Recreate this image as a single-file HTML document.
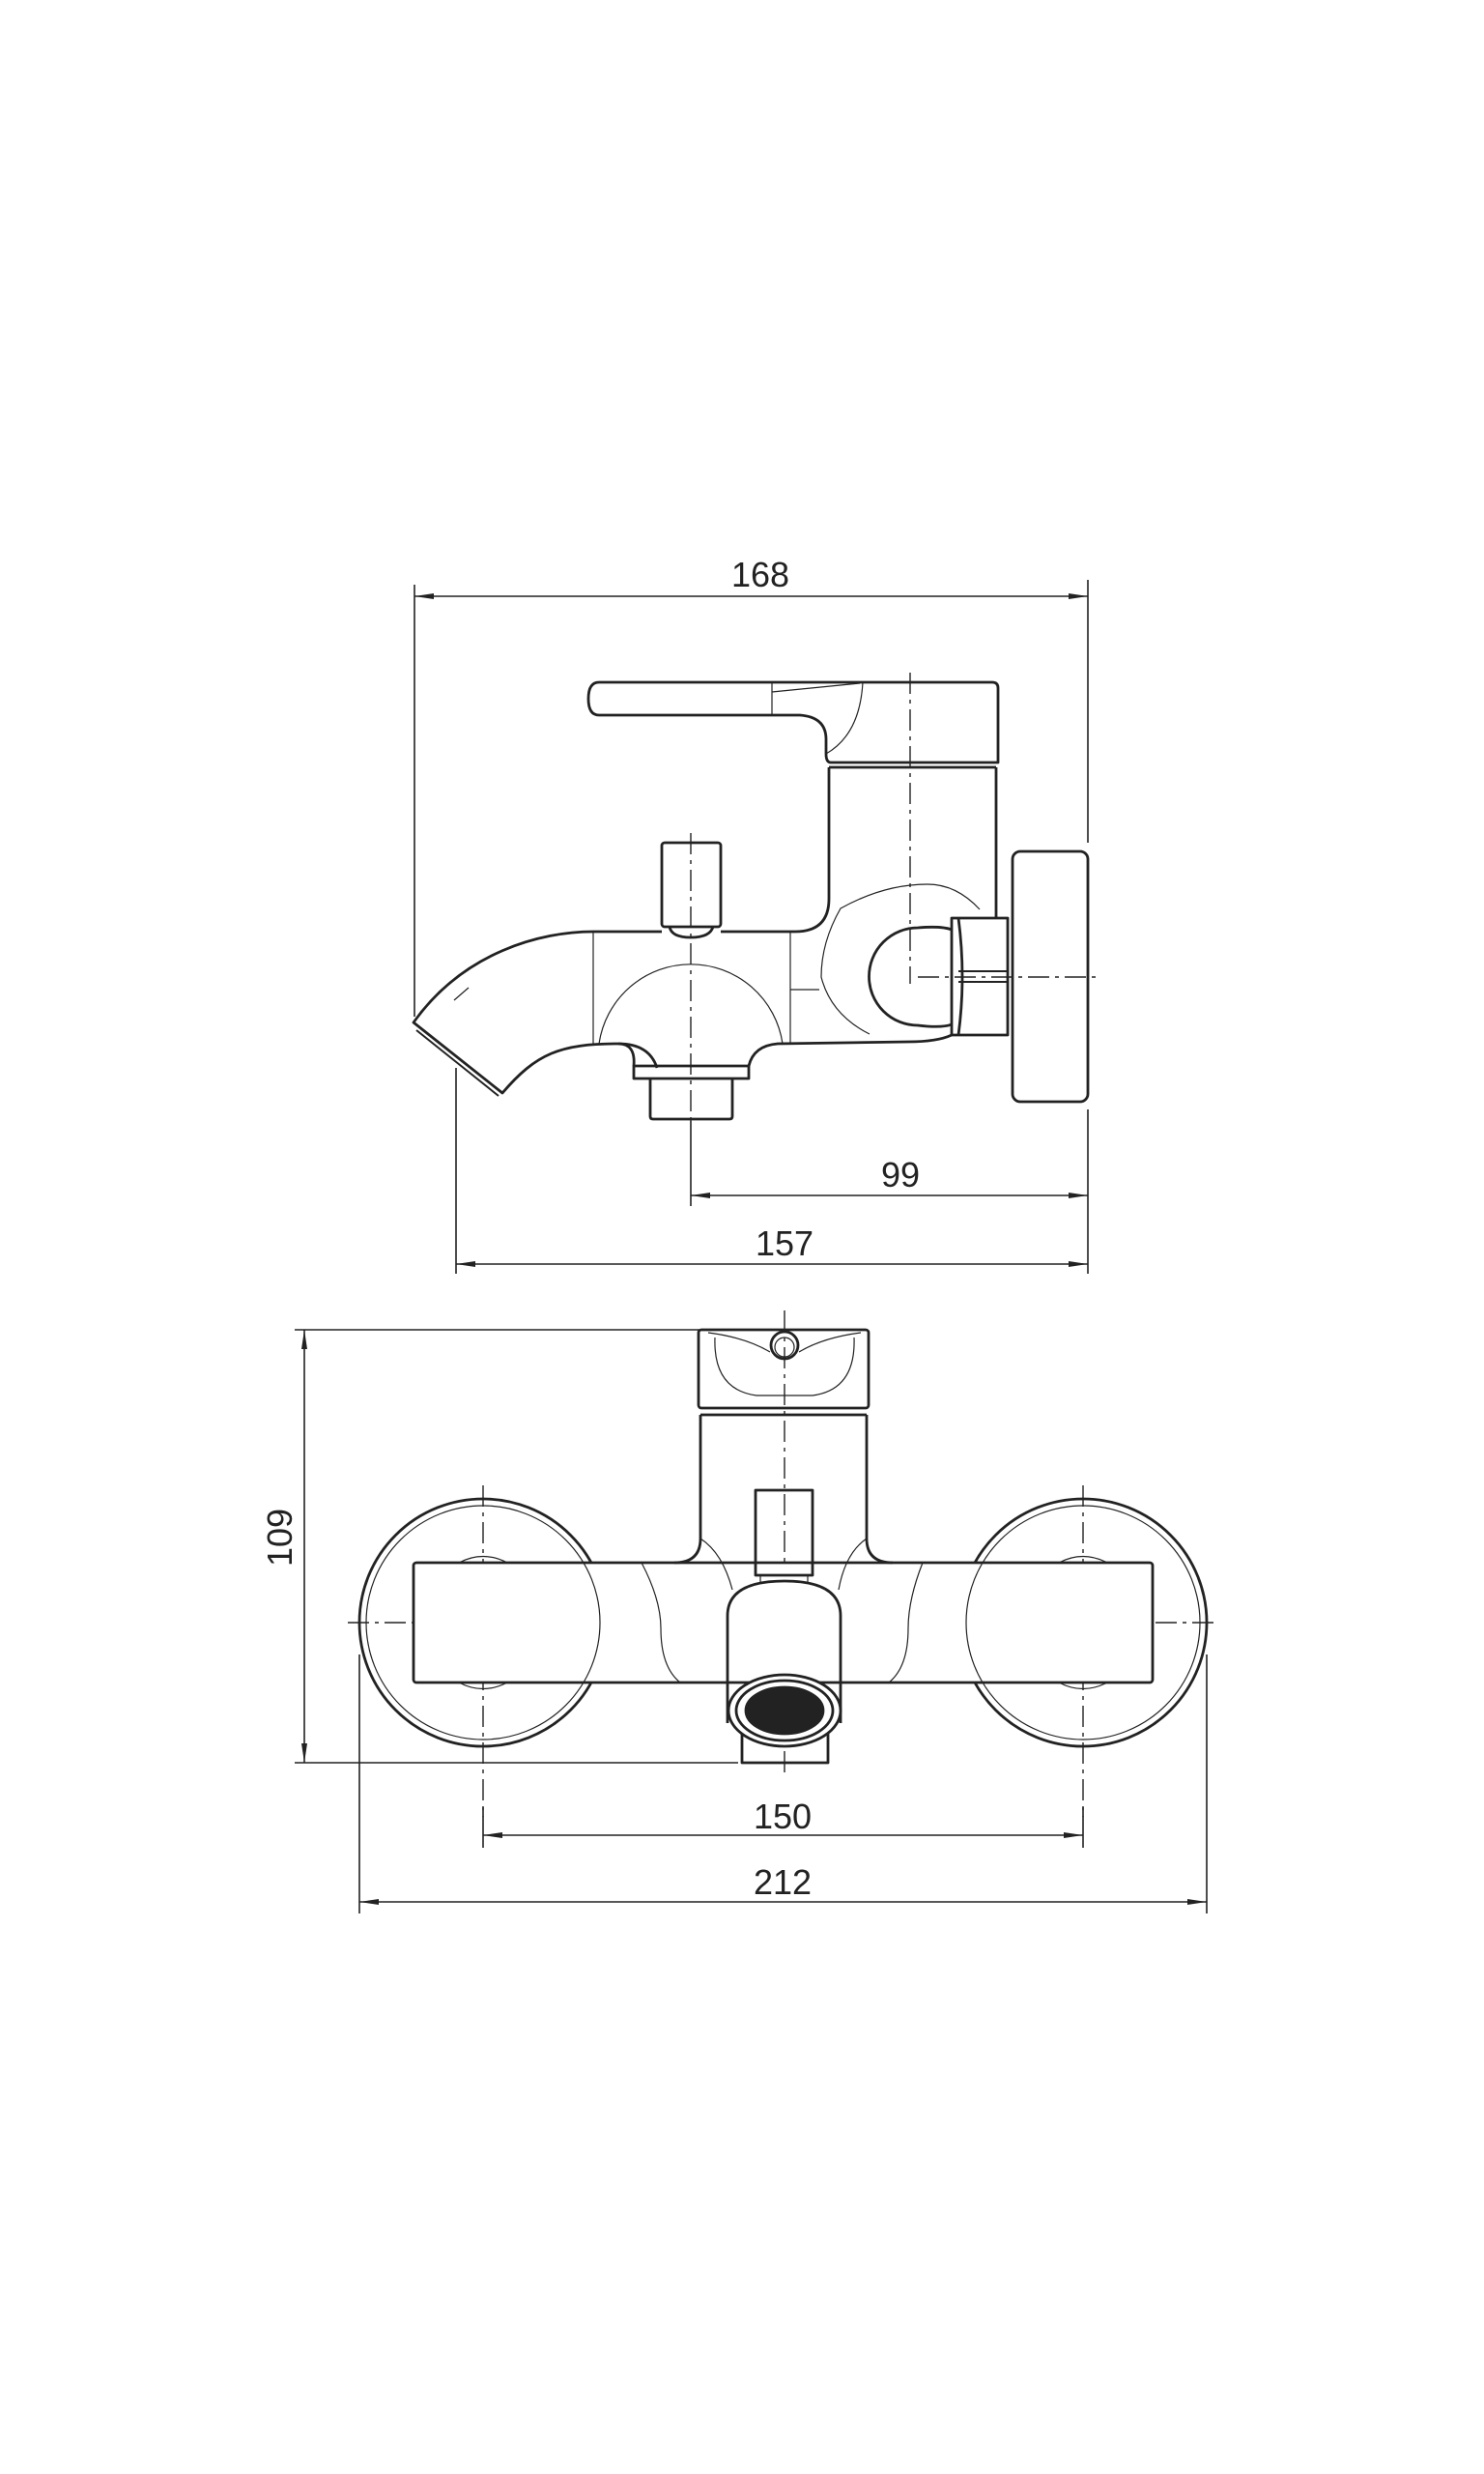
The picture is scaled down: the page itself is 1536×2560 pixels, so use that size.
<!DOCTYPE html>
<html><head><meta charset="utf-8"><style>
html,body{margin:0;padding:0;background:#fff;}
svg{display:block;}
text{font-family:"Liberation Sans",sans-serif;font-size:36px;fill:#222;}
</style></head><body>
<svg width="1536" height="2560" viewBox="0 0 1536 2560" xmlns="http://www.w3.org/2000/svg">
<defs>
<marker id="a" viewBox="0 0 20 8" refX="20" refY="4" markerWidth="20" markerHeight="8" markerUnits="userSpaceOnUse" orient="auto-start-reverse"><path d="M0,1 L20,4 L0,7 Z" fill="#222"/></marker>
</defs>
<g fill="none" stroke="#222">
<g stroke-width="1.6">
<line x1="429" y1="605" x2="429" y2="1052"/>
<line x1="1126" y1="600" x2="1126" y2="872"/>
<line x1="1126" y1="1148" x2="1126" y2="1318"/>
<line x1="429" y1="617" x2="1126" y2="617" marker-start="url(#a)" marker-end="url(#a)"/>
<line x1="715" y1="1160" x2="715" y2="1248"/>
<line x1="715" y1="1237" x2="1126" y2="1237" marker-start="url(#a)" marker-end="url(#a)"/>
<line x1="472" y1="1105" x2="472" y2="1318"/>
<line x1="472" y1="1308" x2="1126" y2="1308" marker-start="url(#a)" marker-end="url(#a)"/>
</g>
<g stroke-width="1.4" stroke-dasharray="22,6,4,6">
<line x1="942" y1="696" x2="942" y2="1018"/>
<line x1="715" y1="862" x2="715" y2="1160"/>
<line x1="950" y1="1011" x2="1135" y2="1011"/>
</g>
<g stroke-width="2.8" stroke-linejoin="round">
<path d="M620,706 L1027,706 Q1033,706 1033,712 L1033,789 L860,789 Q855,789 855,780 L855,765 Q855,742 828,740 L620,740 Q609,740 609,723 Q609,706 620,706 Z"/>
<path d="M858,794 L1031,794"/>
<path d="M858,794 L858,930 Q858,964 823,964 L746,964"/>
<path d="M1031,794 L1031,950"/>
<rect x="685" y="872" width="61" height="87" rx="3"/>
<path d="M693,959 Q695,970 715,970 Q735,970 738,959"/>
<path d="M685,964 L614,964 C560,964 480,985 428,1058 L520,1131 C555,1090 580,1080 640,1080 Q672,1080 680,1105"/>
<path d="M431,1066 L516,1134" stroke-width="2"/>
<path d="M656,1103 L775,1103 L775,1116 L656,1116 Z"/>
<path d="M656,1103 Q658,1080 640,1080"/>
<path d="M673,1116 L673,1155 Q673,1158 676,1158 L755,1158 Q758,1158 758,1155 L758,1116"/>
<path d="M775,1103 Q780,1082 805,1080 L940,1078 Q970,1078 985,1071"/>
<path d="M985,962 Q975,958 950,960 A50,50 0 0 0 950,1061 Q975,1064 985,1060"/>
<path d="M985,950 L1043,950 L1043,1071 L985,1071 Z"/>
<path d="M992,950 Q1000,1011 992,1071"/>
<path d="M992,1005 L1043,1005 M992,1016 L1043,1016" stroke-width="2"/>
<rect x="1048" y="881" width="78" height="259" rx="8"/>
</g>
<g stroke-width="1.2">
<line x1="614" y1="964" x2="614" y2="1080"/>
<line x1="818" y1="964" x2="818" y2="1080"/>
<line x1="818" y1="1024" x2="848" y2="1024"/>
<path d="M620,1080 A96,96 0 0 1 810,1080"/>
<path d="M799,706 L799,740 M799,716 Q840,712 890,707"/>
<path d="M855,780 Q890,760 893,706"/>
<path d="M1014,941 Q990,915 960,915 Q915,915 870,940 Q850,975 850,1011 Q860,1050 900,1070"/>
<path d="M485,1022 L470,1035" />
</g>

<!-- bottom view -->
<g stroke-width="1.6">
<line x1="305" y1="1376" x2="898" y2="1376"/>
<line x1="305" y1="1824" x2="764" y2="1824"/>
<line x1="315" y1="1376" x2="315" y2="1824" marker-start="url(#a)" marker-end="url(#a)"/>
<line x1="372" y1="1712" x2="372" y2="1980"/>
<line x1="1249" y1="1712" x2="1249" y2="1980"/>
<line x1="372" y1="1968" x2="1249" y2="1968" marker-start="url(#a)" marker-end="url(#a)"/>
<line x1="500" y1="1870" x2="500" y2="1912"/>
<line x1="1121" y1="1870" x2="1121" y2="1912"/>
<line x1="500" y1="1899" x2="1121" y2="1899" marker-start="url(#a)" marker-end="url(#a)"/>
</g>
<g stroke-width="1.4" stroke-dasharray="22,6,4,6">
<line x1="360" y1="1679" x2="1262" y2="1679"/>
<line x1="500" y1="1537" x2="500" y2="1880"/>
<line x1="1121" y1="1537" x2="1121" y2="1880"/>
<line x1="812" y1="1356" x2="812" y2="1836"/>
</g>
<g stroke-width="2.8" stroke-linejoin="round">
<circle cx="500" cy="1679" r="128"/>
<circle cx="1121" cy="1679" r="128"/>
<rect x="428" y="1617" width="765" height="124" rx="3" fill="#fff"/>
<rect x="723" y="1376" width="176" height="81" rx="3"/>
<path d="M725,1464 L897,1464"/>
<path d="M725,1464 L725,1592 Q725,1617 698,1617 M897,1464 L897,1592 Q897,1617 924,1617" />
<rect x="782" y="1542" width="59" height="88"/>
<path d="M753,1783 L753,1672 Q753,1636 812,1636 Q870,1636 870,1672 L870,1783"/>
<path d="M768,1789 L768,1824 L857,1824 L857,1789"/>
<ellipse cx="812" cy="1770" rx="58" ry="37" fill="#fff"/>
<ellipse cx="812" cy="1770" rx="50" ry="31"/>
<ellipse cx="812" cy="1770" rx="40" ry="24" fill="#222"/>
<circle cx="812" cy="1392" r="14"/>
</g>
<g stroke-width="1.2">
<circle cx="500" cy="1679" r="121"/>
<circle cx="1121" cy="1679" r="121"/>
<path d="M475,1617 Q500,1604 525,1617 M475,1741 Q500,1754 525,1741"/>
<path d="M1096,1617 Q1121,1604 1146,1617 M1096,1741 Q1121,1754 1146,1741"/>
<path d="M664,1617 Q684,1655 684,1685 Q684,1725 704,1741"/>
<path d="M955,1617 Q940,1655 940,1685 Q940,1725 920,1741"/>
<path d="M725,1592 Q748,1607 758,1645 M897,1592 Q875,1607 868,1645"/>
<path d="M740,1384 Q738,1438 783,1444 L841,1444 Q886,1438 884,1384 M733,1379 Q772,1384 797,1399 M891,1379 Q852,1384 827,1399"/>
<circle cx="812" cy="1394" r="10"/>
<path d="M787,1630 L787,1637 M836,1630 L836,1637"/>
</g>
</g>
<text x="787" y="607" text-anchor="middle">168</text>
<text x="932" y="1228" text-anchor="middle">99</text>
<text x="812" y="1299" text-anchor="middle">157</text>
<text x="810" y="1892" text-anchor="middle">150</text>
<text x="810" y="1960" text-anchor="middle">212</text>
<text transform="translate(302,1591) rotate(-90)" text-anchor="middle">109</text>
</svg>
</body></html>
